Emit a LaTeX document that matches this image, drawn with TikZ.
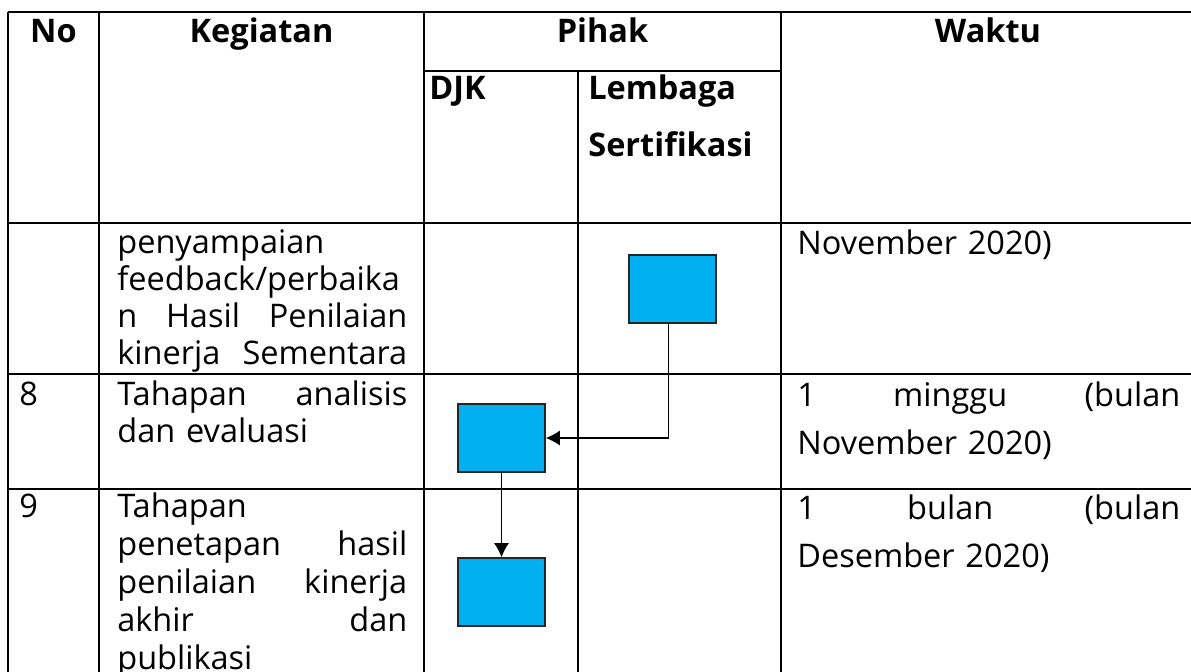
\documentclass[tikz,border=0pt]{standalone}
\usepackage{fontspec}
\setmainfont{Open Sans}
\usetikzlibrary{arrows.meta}
\definecolor{boxcyan}{RGB}{0,176,240}
\tikzset{
  grid/.style={line width=1.1pt},
  cell/.style={inner sep=0pt, anchor=base west, align=left, font=\fontsize{18.5}{21}\selectfont},
  waktucell/.style={cell, text width=7.66cm, font=\fontsize{18.5}{27.2}\selectfont},
  head/.style={inner sep=0pt, anchor=base, font=\fontsize{18.5}{21}\selectfont\bfseries},
  flowbox/.style={draw=black!85, fill=boxcyan, line width=0.8pt, minimum width=1.74cm, minimum height=1.36cm, inner sep=0pt},
}
\begin{document}
\begin{tikzpicture}[x=0.02cm,y=-0.02cm,>={Latex[length=8pt,width=8.5pt]}]
\useasboundingbox (0,0) rectangle (1191,672);
\clip (0,0) rectangle (1191,672);
% table lines
\draw[grid] (8,12)--(1210,12);
\draw[grid] (424,71)--(781,71);
\foreach \y in {223,374,489}
  \draw[grid] (8,\y)--(1210,\y);
\foreach \x in {8,99,424,781}
  \draw[grid] (\x,12)--(\x,690);
\draw[grid] (578,71)--(578,690);
% header
\node[head] (hno) at (53.5,43) {No};
\node[head] (hkeg) at (261.5,43) {Kegiatan};
\node[head] (hpihak) at (602.5,43) {Pihak};
\node[head] (hwaktu) at (988,43) {Waktu};
\node[head,anchor=base west] (hdjk) at (429,100) {DJK};
\node[head,anchor=base west,align=left,text width=4cm,font=\fontsize{18.5}{32.3}\selectfont\bfseries] (hlsp) at (588,100) {Lembaga\\Sertifikasi};
% row 7 (lanjutan)
\node[cell,text width=5.8cm] (keg7) at (117,254) {penyampaian\\feedback/perbaika\\n\hfill Hasil\hfill Penilaian\\kinerja\hfill Sementara};
\node[waktucell] (wkt7) at (797,255) {November 2020)};
% row 8
\node[cell] (no8) at (19,406) {8};
\node[cell,text width=5.8cm] (keg8) at (117,406) {Tahapan\hfill analisis\\dan evaluasi};
\node[waktucell] (wkt8) at (797,407) {1\hfill minggu\hfill (bulan\\November 2020)};
% row 9
\node[cell] (no9) at (19,518) {9};
\node[cell,text width=5.8cm,font=\fontsize{18.5}{21.6}\selectfont] (keg9) at (117,518) {Tahapan\\penetapan\hfill hasil\\penilaian\hfill kinerja\\akhir\hfill dan\\publikasi};
\node[waktucell] (wkt9) at (797,520) {1\hfill bulan\hfill (bulan\\Desember 2020)};
% alur
\node[flowbox] (lsp7) at (672.5,289) {};
\node[flowbox] (djk8) at (501.5,438) {};
\node[flowbox] (djk9) at (501.5,592) {};
\draw[->,line width=0.8pt] ([xshift=-0.08cm]lsp7.south) |- (djk8.east);
\draw[->,line width=0.8pt] (djk8.south) -- (djk9.north);
\end{tikzpicture}
\end{document}
